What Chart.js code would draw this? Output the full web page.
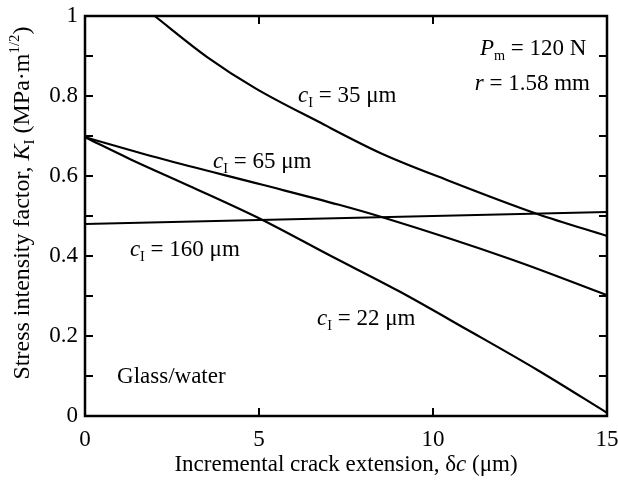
<!DOCTYPE html>
<html>
<head>
<meta charset="utf-8">
<script src="https://cdn.jsdelivr.net/npm/chart.js@4"></script>
<style>
  body { margin: 0; background: #fff; }
  #wrap { width: 618px; height: 481px; position: relative; }
</style>
</head>
<body>
<div id="wrap"><canvas id="chart"></canvas></div>
<script>
// Data
const xTicks = [0, 5, 10, 15];
const yTicks = [0, 0.2, 0.4, 0.6, 0.8, 1];
const yMinorTicks = [0, 0.1, 0.2, 0.3, 0.4, 0.5, 0.6, 0.7, 0.8, 0.9, 1];

const dc22 = [0, 1.3, 3, 5.1, 7, 9, 11, 13, 15];
const k22 = [0.697, 0.642, 0.575, 0.49, 0.403, 0.313, 0.215, 0.115, 0.008];

const dc35 = [2, 3.5, 4.9, 6.7, 8.5, 10.4, 13, 15];
const k35 = [1.0, 0.898, 0.819, 0.736, 0.657, 0.59, 0.505, 0.45];

const dc65 = [0, 2.2, 5.1, 7.3, 8.5, 12.3, 15];
const k65 = [0.697, 0.643, 0.578, 0.528, 0.498, 0.39, 0.302];

const dc160 = [0, 15];
const k160 = [0.48, 0.51];

const SERIF = '"Liberation Serif", "Times New Roman", serif';

function toPoints(xs, ys) {
    return xs.map((x, i) => ({ x: x, y: ys[i] }));
}

// Text labels inside the plot (data coordinates)
const notes = [
    { x: 11.35, y: 0.9025, parts: [{ t: 'P', it: true }, { t: 'm', sub: true }, { t: ' = 120 N' }] },
    { x: 11.2, y: 0.815, parts: [{ t: 'r', it: true }, { t: ' = 1.58 mm' }] },
    { x: 6.12, y: 0.785, parts: [{ t: 'c', it: true }, { t: 'I', sub: true }, { t: ' = 35 μm' }] },
    { x: 3.68, y: 0.62, parts: [{ t: 'c', it: true }, { t: 'I', sub: true }, { t: ' = 65 μm' }] },
    { x: 1.29, y: 0.40, parts: [{ t: 'c', it: true }, { t: 'I', sub: true }, { t: ' = 160 μm' }] },
    { x: 6.67, y: 0.2275, parts: [{ t: 'c', it: true }, { t: 'I', sub: true }, { t: ' = 22 μm' }] },
    { x: 0.92, y: 0.0825, parts: [{ t: 'Glass/water' }] }
];

// Draw text made of roman / italic / sub / sup pieces
function richWidth(ctx, parts, size) {
    let w = 0;
    parts.forEach(p => {
        const s = (p.sub || p.sup) ? size * 0.62 : size;
        ctx.font = (p.it ? 'italic ' : '') + s + 'px ' + SERIF;
        w += ctx.measureText(p.t).width;
    });
    return w;
}

function drawRich(ctx, parts, x, y, size) {
    ctx.textBaseline = 'alphabetic';
    ctx.textAlign = 'left';
    let cx = x;
    parts.forEach(p => {
        const s = (p.sub || p.sup) ? size * 0.62 : size;
        ctx.font = (p.it ? 'italic ' : '') + s + 'px ' + SERIF;
        let dy = 0;
        if (p.sub) dy = size * 0.22;
        if (p.sup) dy = -size * 0.42;
        ctx.fillText(p.t, cx, y + dy);
        cx += ctx.measureText(p.t).width;
    });
}

const framePlugin = {
    id: 'frame',
    afterDraw(chart) {
        const ctx = chart.ctx;
        const a = chart.chartArea;
        const xs = chart.scales.x;
        const ys = chart.scales.y;
        ctx.save();
        ctx.strokeStyle = '#000';
        ctx.fillStyle = '#000';
        ctx.lineWidth = 2.5;
        ctx.strokeRect(a.left, a.top, a.right - a.left, a.bottom - a.top);

        // inward tick marks
        const len = 8;
        ctx.lineWidth = 2;
        ctx.beginPath();
        xTicks.forEach(v => {
            const px = xs.getPixelForValue(v);
            ctx.moveTo(px, a.bottom);
            ctx.lineTo(px, a.bottom - len);
            ctx.moveTo(px, a.top);
            ctx.lineTo(px, a.top + len);
        });
        yMinorTicks.forEach(v => {
            const py = ys.getPixelForValue(v);
            ctx.moveTo(a.left, py);
            ctx.lineTo(a.left + len, py);
            ctx.moveTo(a.right, py);
            ctx.lineTo(a.right - len, py);
        });
        ctx.stroke();

        // notes inside the plot
        notes.forEach(n => {
            drawRich(ctx, n.parts, xs.getPixelForValue(n.x), ys.getPixelForValue(n.y), 23);
        });

        // x axis title
        const xt = [{ t: 'Incremental crack extension, δ' }, { t: 'c', it: true }, { t: ' (μm)' }];
        const xw = richWidth(ctx, xt, 23);
        drawRich(ctx, xt, (a.left + a.right) / 2 - xw / 2, 471, 23);

        // y axis title
        const yt = [{ t: 'Stress intensity factor, ' }, { t: 'K', it: true }, { t: 'I', sub: true },
                    { t: ' (MPa·m' }, { t: '1/2', sup: true }, { t: ')' }];
        const yw = richWidth(ctx, yt, 24);
        ctx.translate(29, 203);
        ctx.rotate(-Math.PI / 2);
        drawRich(ctx, yt, -yw / 2, 0, 24);
        ctx.restore();
    }
};

function lineSet(xs, ys) {
    return {
        data: toPoints(xs, ys),
        borderColor: '#000',
        borderWidth: 2.2,
        pointRadius: 0,
        fill: false,
        showLine: true,
        cubicInterpolationMode: 'monotone'
    };
}

new Chart(document.getElementById('chart'), {
    type: 'scatter',
    data: {
        datasets: [
            lineSet(dc35, k35),
            lineSet(dc65, k65),
            lineSet(dc160, k160),
            lineSet(dc22, k22)
        ]
    },
    options: {
        responsive: true,
        maintainAspectRatio: false,
        animation: false,
        layout: { padding: { top: 16, right: 11, left: 0, bottom: 0 } },
        plugins: { legend: { display: false }, tooltip: { enabled: false } },
        scales: {
            x: {
                type: 'linear',
                min: 0,
                max: 15,
                afterFit: s => {
                    s.height = 65;
                    s.paddingLeft = 0;
                    s.paddingRight = 0;
                },
                afterBuildTicks: s => { s.ticks = xTicks.map(v => ({ value: v })); },
                grid: { display: false, drawTicks: false },
                border: { display: false },
                ticks: {
                    color: '#000',
                    padding: 10,
                    maxRotation: 0,
                    font: { family: SERIF, size: 23 },
                    callback: v => String(v)
                }
            },
            y: {
                type: 'linear',
                min: 0,
                max: 1,
                afterFit: s => {
                    s.width = 85;
                    s.paddingTop = 0;
                    s.paddingBottom = 0;
                },
                afterBuildTicks: s => { s.ticks = yTicks.map(v => ({ value: v })); },
                grid: { display: false, drawTicks: false },
                border: { display: false },
                ticks: {
                    color: '#000',
                    padding: 7,
                    font: { family: SERIF, size: 23 },
                    callback: v => String(v)
                }
            }
        }
    },
    plugins: [framePlugin]
});
</script>
</body>
</html>
